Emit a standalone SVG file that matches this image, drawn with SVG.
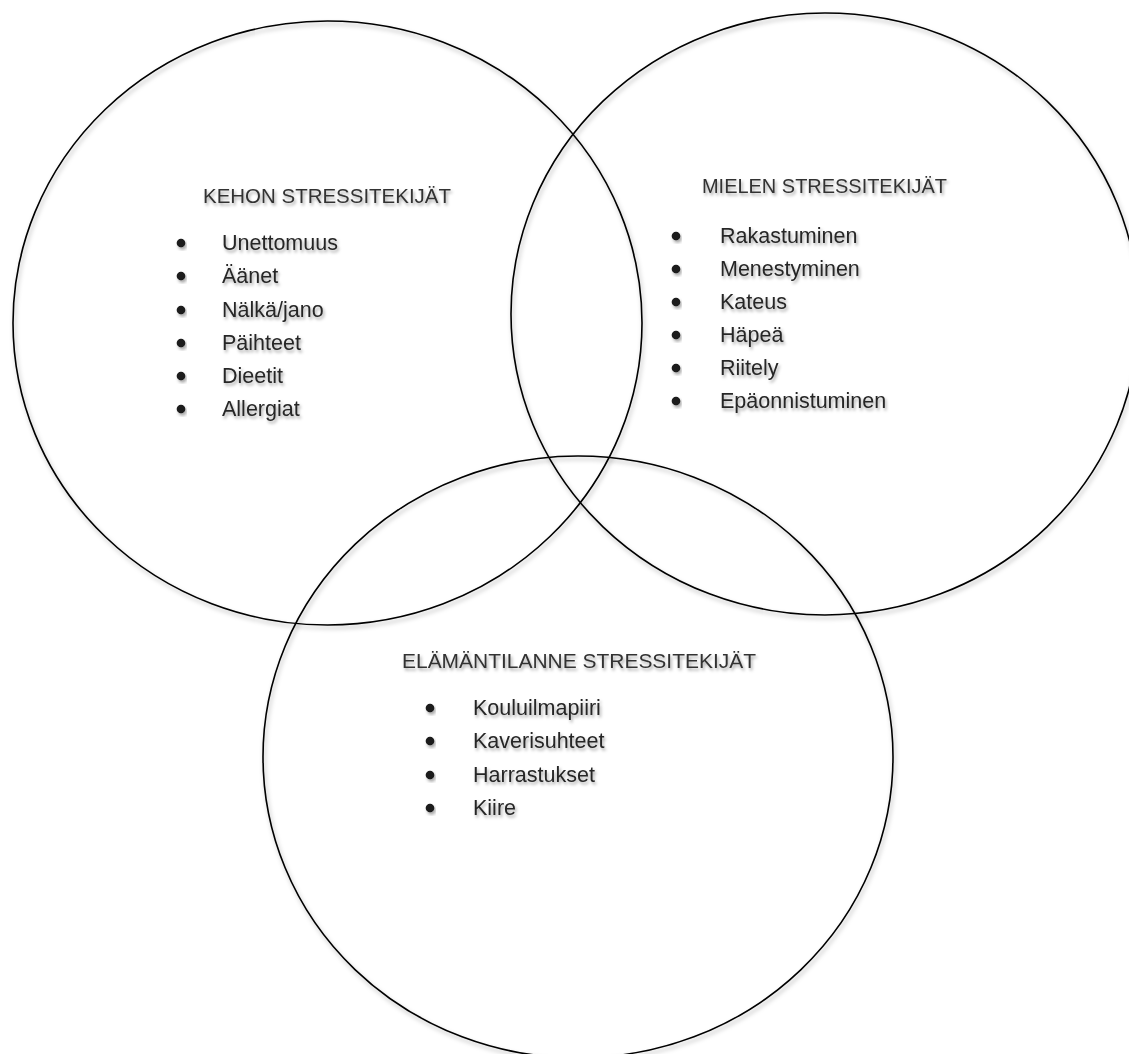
<svg xmlns="http://www.w3.org/2000/svg" width="1129" height="1054" viewBox="0 0 1129 1054">
  <defs>
    <filter id="shadow" x="-10%" y="-10%" width="120%" height="130%">
      <feDropShadow dx="1.5" dy="3" stdDeviation="2" flood-color="#000" flood-opacity="0.3"/>
    </filter>
    <filter id="tshadow" x="-10%" y="-30%" width="120%" height="170%">
      <feDropShadow dx="1.5" dy="2.5" stdDeviation="1.5" flood-color="#000" flood-opacity="0.35"/>
    </filter>
  </defs>
  <style>
    .ring { fill: none; stroke: #000; stroke-width: 1.6; filter: url(#shadow); }
    .title { font-family: "Liberation Sans", Arial, sans-serif; font-size: 21px; fill: #333; filter: url(#tshadow); }
    .item { font-family: "Liberation Sans", Arial, sans-serif; font-size: 21.5px; fill: #262626; filter: url(#tshadow); }
    .dot { fill: #1a1a1a; filter: url(#tshadow); }
  </style>
  <rect width="1129" height="1054" fill="#fff"/>

  <g id="kehon">
    <ellipse class="ring" cx="327.5" cy="323" rx="314.5" ry="302"/>
    <text class="title" x="203" y="203" textLength="248" lengthAdjust="spacingAndGlyphs">KEHON STRESSITEKIJÄT</text>
    <g>
      <circle class="dot" cx="181" cy="243" r="4.3"/>
      <circle class="dot" cx="181" cy="276" r="4.3"/>
      <circle class="dot" cx="181" cy="310" r="4.3"/>
      <circle class="dot" cx="181" cy="343" r="4.3"/>
      <circle class="dot" cx="181" cy="376" r="4.3"/>
      <circle class="dot" cx="181" cy="409" r="4.3"/>
    </g>
    <text class="item" x="222" y="250">Unettomuus</text>
    <text class="item" x="222" y="283">Äänet</text>
    <text class="item" x="222" y="317">Nälkä/jano</text>
    <text class="item" x="222" y="350">Päihteet</text>
    <text class="item" x="222" y="383">Dieetit</text>
    <text class="item" x="222" y="416">Allergiat</text>
  </g>

  <g id="mielen">
    <ellipse class="ring" cx="825" cy="314" rx="314" ry="301"/>
    <text class="title" x="702" y="193" textLength="245" lengthAdjust="spacingAndGlyphs">MIELEN STRESSITEKIJÄT</text>
    <g>
      <circle class="dot" cx="676" cy="236" r="4.3"/>
      <circle class="dot" cx="676" cy="269" r="4.3"/>
      <circle class="dot" cx="676" cy="302" r="4.3"/>
      <circle class="dot" cx="676" cy="335" r="4.3"/>
      <circle class="dot" cx="676" cy="368" r="4.3"/>
      <circle class="dot" cx="676" cy="401" r="4.3"/>
    </g>
    <text class="item" x="720" y="243">Rakastuminen</text>
    <text class="item" x="720" y="276">Menestyminen</text>
    <text class="item" x="720" y="309">Kateus</text>
    <text class="item" x="720" y="342">Häpeä</text>
    <text class="item" x="720" y="375">Riitely</text>
    <text class="item" x="720" y="408">Epäonnistuminen</text>
  </g>

  <g id="elamantilanne">
    <ellipse class="ring" cx="578" cy="757" rx="315" ry="301"/>
    <text class="title" x="402" y="668" textLength="354" lengthAdjust="spacingAndGlyphs">ELÄMÄNTILANNE STRESSITEKIJÄT</text>
    <g>
      <circle class="dot" cx="430" cy="708" r="4.3"/>
      <circle class="dot" cx="430" cy="741" r="4.3"/>
      <circle class="dot" cx="430" cy="775" r="4.3"/>
      <circle class="dot" cx="430" cy="808" r="4.3"/>
    </g>
    <text class="item" x="473" y="715">Kouluilmapiiri</text>
    <text class="item" x="473" y="748">Kaverisuhteet</text>
    <text class="item" x="473" y="782">Harrastukset</text>
    <text class="item" x="473" y="815">Kiire</text>
  </g>
</svg>
